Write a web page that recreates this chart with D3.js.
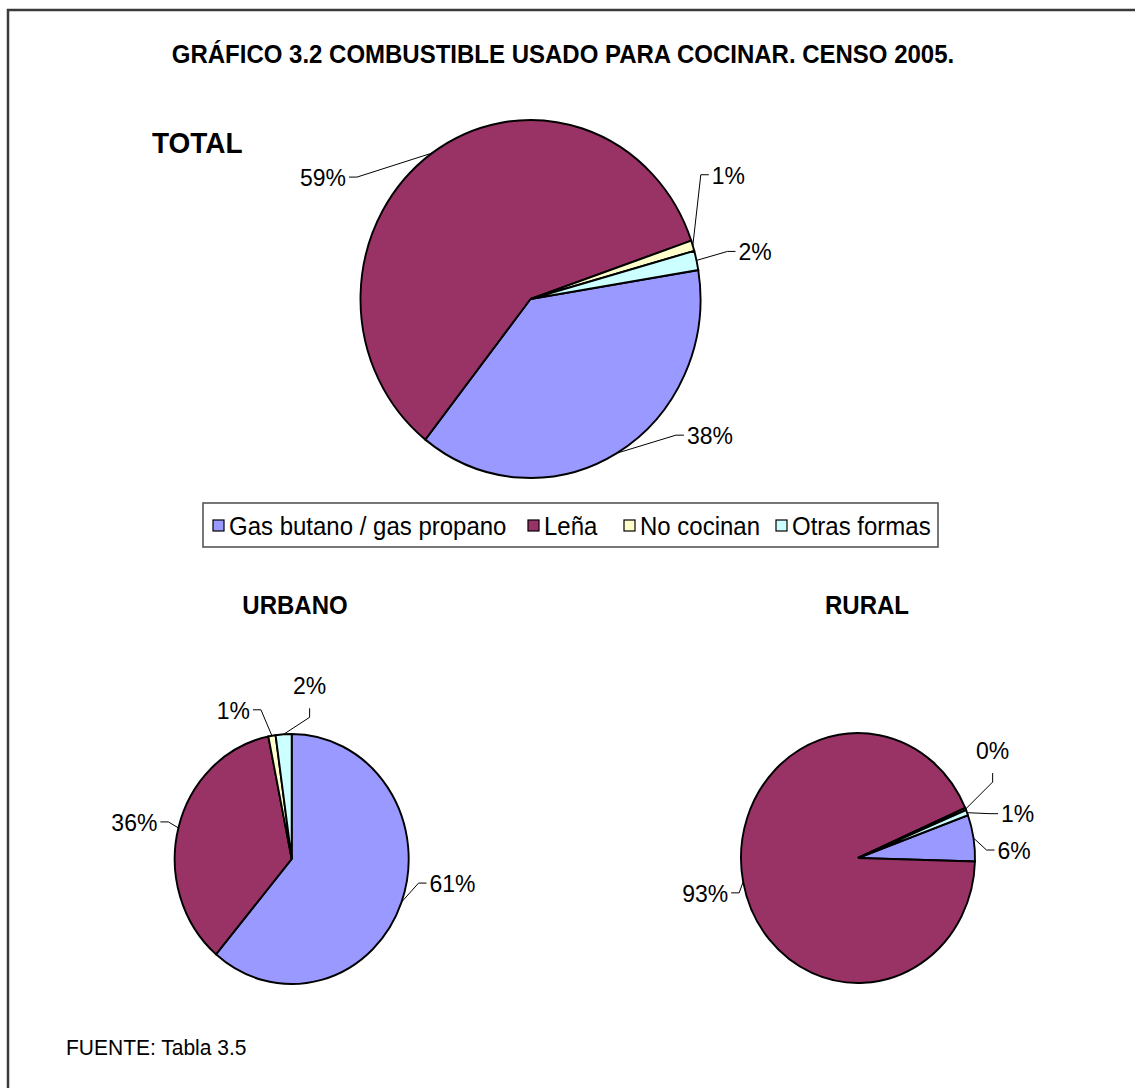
<!DOCTYPE html>
<meta charset="utf-8">
<style>
body { margin: 0; background: #fff; }
text { font-family: "Liberation Sans", Arial, sans-serif; fill: #000; }
.titulo { font-weight: bold; }
.slice { stroke: #000; stroke-width: 1.9px; }
.leader { fill: none; stroke: #000; stroke-width: 1px; }
</style>
<body>
<script src="https://cdn.jsdelivr.net/npm/d3@7/dist/d3.min.js"></script>
<script>

// categorias y colores (paleta clasica de Excel)
var categorias = ["Gas butano / gas propano", "Leña", "No cocinan", "Otras formas"];
var colores = ["#9999ff", "#993366", "#ffffcc", "#ccffff"];

// porcentajes por area (Censo 2005)
var valores_total = [38.2, 59.1, 0.95, 1.75];
var valores_urbano = [61.2, 35.6, 1.0, 2.2];
var valores_rural = [6.0, 93.0, 0.3, 0.7];

var width = 1135, height = 1088;
var estirar = 1.08; // el original tiene las letras algo alargadas

var svg = d3.select("body").append("svg")
    .attr("width", width)
    .attr("height", height);

svg.append("rect").attr("width", width).attr("height", height).attr("fill", "#fff");

// texto con su punto de anclaje en (x,y), estirado en vertical
function texto(x, y, s) {
  return svg.append("text")
      .attr("transform", "translate(" + x + "," + y + ") scale(1," + estirar + ")")
      .text(s);
}

// marco (solo se ve arriba y a la izquierda)
svg.append("path")
    .attr("d", "M8," + height + "V10H" + width)
    .attr("fill", "none")
    .attr("stroke", "#3a3a3a")
    .attr("stroke-width", 2.5);

texto(563, 63, "GRÁFICO 3.2 COMBUSTIBLE USADO PARA COCINAR. CENSO 2005.")
    .attr("class", "titulo")
    .attr("text-anchor", "middle")
    .style("font-size", "24px");

// configuracion de cada torta: centro, radios, giro inicial (grados)
// y para cada etiqueta el desplazamiento del codo respecto al borde
var tortas = [
  { valores: valores_total, cx: 530.5, cy: 299, rx: 170, ry: 179, giro: 80.7,
    codos: [[59, -18, "r"], [-75, 24, "l"], [8, -71, "r"], [31, -9, "r"]] },
  { valores: valores_urbano, cx: 291.7, cy: 859, rx: 117, ry: 125, giro: 0,
    codos: [[17, -19, "r"], [-10, -6, "l"], [-11, -26, "l"], [26, -17, "u"]] },
  { valores: valores_rural, cx: 858, cy: 858, rx: 117, ry: 125, giro: 70,
    codos: [[13, 12, "r"], [-4, 11, "l"], [27, -27, "u"], [23, 1, "r"]] }
];

tortas.forEach(function(t) {
  var a0 = t.giro * Math.PI / 180;
  var pie = d3.pie().sort(null).startAngle(a0).endAngle(a0 + 2 * Math.PI);
  var arc = d3.arc().innerRadius(0).outerRadius(t.rx);
  var arcs = pie(t.valores);

  var g = svg.append("g")
      .attr("transform", "translate(" + t.cx + "," + t.cy + ") scale(1," + (t.ry / t.rx) + ")");

  g.selectAll("path")
      .data(arcs)
    .enter().append("path")
      .attr("class", "slice")
      .attr("fill", function(d, i) { return colores[i]; })
      .attr("d", arc);

  arcs.forEach(function(d, i) {
    var m = (d.startAngle + d.endAngle) / 2;
    var ax = t.cx + t.rx * Math.sin(m),
        ay = t.cy - t.ry * Math.cos(m);
    var c = t.codos[i];
    var bx = ax + c[0], by = ay + c[1];
    var etiqueta = Math.round(d.value) + "%";
    var tx, ty, anchor, baseline = "central", ex = bx, ey = by;

    if (c[2] == "r") { ex = bx + 8; tx = bx + 11; ty = by; anchor = "start"; }
    else if (c[2] == "l") { ex = bx - 8; tx = bx - 11; ty = by; anchor = "end"; }
    else { ey = by - 9; tx = bx; ty = ey - 14; anchor = "middle"; baseline = "auto"; }

    svg.append("path")
        .attr("class", "leader")
        .attr("d", d3.line()([[ax, ay], [bx, by], [ex, ey]]));

    texto(tx, ty, etiqueta)
        .attr("text-anchor", anchor)
        .attr("dominant-baseline", baseline)
        .style("font-size", "23px");
  });
});

// titulos de cada torta
texto(152, 153, "TOTAL").attr("class", "titulo")
    .style("font-size", "28px");
texto(295, 614, "URBANO").attr("class", "titulo")
    .attr("text-anchor", "middle")
    .style("font-size", "24px");
texto(867, 614, "RURAL").attr("class", "titulo")
    .attr("text-anchor", "middle")
    .style("font-size", "24px");

// leyenda
var leyenda_x = [213, 528, 624, 776];
svg.append("rect")
    .attr("x", 203).attr("y", 503)
    .attr("width", 735).attr("height", 44)
    .attr("fill", "#fff")
    .attr("stroke", "#555")
    .attr("stroke-width", 1.6);

categorias.forEach(function(cat, i) {
  svg.append("rect")
      .attr("x", leyenda_x[i]).attr("y", 520)
      .attr("width", 11).attr("height", 11)
      .attr("fill", colores[i])
      .attr("stroke", "#000")
      .attr("stroke-width", 1.2);
  texto(leyenda_x[i] + 16, 535, cat)
      .style("font-size", "24px");
});

texto(66, 1055, "FUENTE: Tabla 3.5")
    .style("font-size", "21px");

</script>
</body>
